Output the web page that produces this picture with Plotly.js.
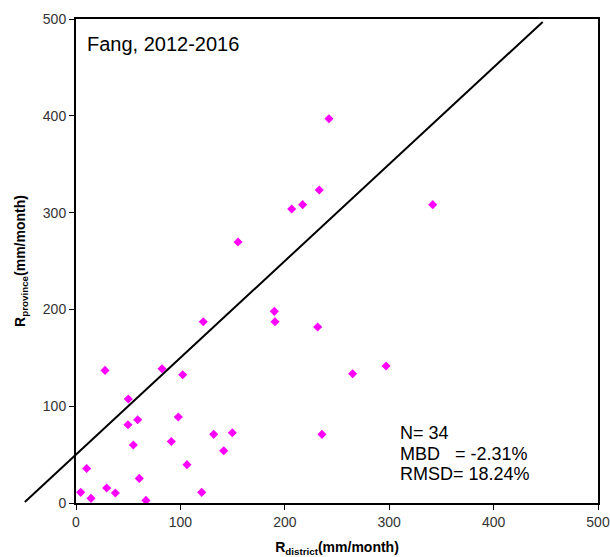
<!DOCTYPE html>
<html>
<head>
<meta charset="utf-8">
<script src="https://cdn.plot.ly/plotly-3.0.1.min.js"></script>
<style>html,body{margin:0;padding:0;background:#fff}</style>
</head>
<body>
<div id="chart" style="width:610px;height:557px"></div>
<script>
// R_district (x) and R_province (y), mm/month
var rDistrict = [4.5, 10.2, 14.4, 27.8, 29.4, 37.7, 50.1, 49.8, 59.1, 54.9, 60.6, 67.0,
  82.4, 98.0, 102.2, 91.3, 106.3, 121.9, 120.4, 131.9, 141.5, 149.7, 190.0, 190.6,
  155.2, 206.6, 217.1, 242.3, 233.0, 341.7, 231.5, 265.0, 297.0, 235.6];
var rProvince = [11.0, 35.7, 4.8, 137.0, 15.5, 10.3, 107.4, 80.9, 86.0, 59.9, 25.4, 2.7,
  138.7, 88.8, 132.5, 63.6, 39.6, 187.3, 11.0, 70.9, 54.0, 72.6, 198.0, 187.3,
  269.6, 303.7, 308.2, 397.0, 323.3, 308.2, 181.8, 133.6, 141.5, 70.9];
// reference line endpoints (data units)
var refLineX = [-49, 447];
var refLineY = [1, 497];
var xRange = [0, 500];
var yRange = [0, 500];
var tickVals = [0, 100, 200, 300, 400, 500];
var labelText = "Fang, 2012-2016";
var statLines = ["N= 34", "MBD\u00A0\u00A0\u00A0= -2.31%", "RMSD= 18.24%"];

function toPaperX(v){ return (v - xRange[0]) / (xRange[1] - xRange[0]); }
function toPaperY(v){ return (v - yRange[0]) / (yRange[1] - yRange[0]); }

var font = "Liberation Sans, Arial, sans-serif";

var trace = {
  x: rDistrict, y: rProvince, type: 'scatter', mode: 'markers',
  marker: {symbol: 'diamond', color: '#ff00ff', size: 7},
  cliponaxis: false, showlegend: false, hoverinfo: 'x+y'
};

var annotations = [{
  xref: 'x', yref: 'y', x: 9, y: 474, xanchor: 'left', yanchor: 'middle',
  text: labelText, showarrow: false, font: {family: font, size: 20, color: '#000'}
}];
var statY = [72, 51, 30];
for (var i = 0; i < statLines.length; i++) {
  annotations.push({
    xref: 'x', yref: 'y', x: 308, y: statY[i], xanchor: 'left', yanchor: 'middle',
    text: statLines[i], showarrow: false, font: {family: font, size: 18, color: '#000'}
  });
}

var layout = {
  width: 610, height: 557,
  margin: {l: 76, r: 12, t: 19, b: 54},
  paper_bgcolor: '#fff', plot_bgcolor: '#fff',
  font: {family: font, color: '#222'},
  xaxis: {
    range: xRange, tickvals: tickVals, ticks: 'outside', ticklen: 5, tickcolor: '#000',
    showgrid: false, zeroline: false, showline: true, linecolor: '#000', linewidth: 2,
    mirror: true, tickfont: {family: font, size: 14, color: '#333'},
    title: {text: '<b>R<sub>district</sub>(mm/month)</b>', font: {family: font, size: 14, color: '#000'}, standoff: 13}
  },
  yaxis: {
    range: yRange, tickvals: tickVals, ticks: 'outside', ticklen: 5, tickcolor: '#000',
    showgrid: false, zeroline: false, showline: true, linecolor: '#000', linewidth: 2,
    mirror: true, tickfont: {family: font, size: 14, color: '#333'},
    title: {text: '<b>R<sub>province</sub>(mm/month)</b>', font: {family: font, size: 14, color: '#000'}, standoff: 14}
  },
  shapes: [{
    type: 'line', xref: 'paper', yref: 'paper',
    x0: toPaperX(refLineX[0]), y0: toPaperY(refLineY[0]),
    x1: toPaperX(refLineX[1]), y1: toPaperY(refLineY[1]),
    line: {color: '#000', width: 2}, layer: 'below'
  }],
  annotations: annotations
};

Plotly.newPlot('chart', [trace], layout, {displayModeBar: false, staticPlot: true});
</script>
</body>
</html>
